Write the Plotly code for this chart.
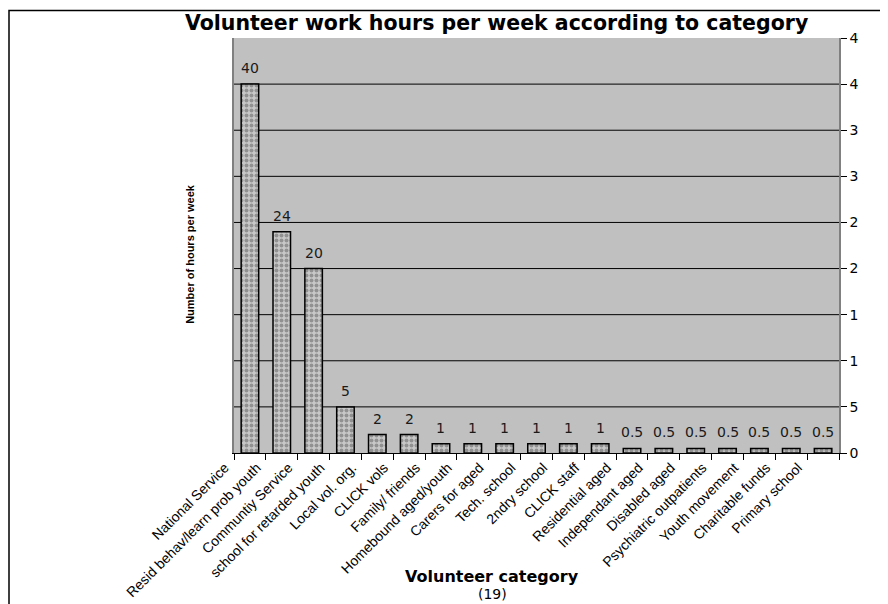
import plotly.graph_objects as go

categories = [
    "National Service", "Resid behav/learn prob youth", "Communtiy Service",
    "school for retarded youth", "Local vol. org.", "CLICK vols", "Family/ friends",
    "Homebound aged/youth", "Carers for aged", "Tech. school", "2ndry school",
    "CLICK staff", "Residential aged", "Independant aged", "Disabled aged",
    "Psychiatric outpatients", "Youth movement", "Charitable funds", "Primary school",
]
hours = [40, 24, 20, 5, 2, 2, 1, 1, 1, 1, 1, 1, 0.5, 0.5, 0.5, 0.5, 0.5, 0.5, 0.5]
bar_labels = ["40", "24", "20", "5", "2", "2", "1", "1", "1", "1", "1", "1",
              "0.5", "0.5", "0.5", "0.5", "0.5", "0.5", "0.5"]
y_tickvals = [0, 5, 10, 15, 20, 25, 30, 35, 40, 45]
y_ticktext = ["0", "5", "1", "1", "2", "2", "3", "3", "4", "4"]
gridvals = [5, 10, 15, 20, 25, 30, 35, 40]

W, H = 888, 604
L, R, T, B = 226, 831, 30, 453  # plot area in pixels

def px(x):
    return (x - L) / (R - L)

def py(y):
    return (B - y) / (B - T)

fig = go.Figure()
fig.add_trace(go.Bar(
    x=categories, y=hours,
    marker=dict(
        color="#b8b8b8",
        line=dict(color="black", width=1.5),
        pattern=dict(shape=".", fgcolor="#5a5a5a", bgcolor="#c8c8c8", size=5, solidity=0.5),
    ),
    hoverinfo="skip",
))

annotations = []
for c, v, t in zip(categories, hours, bar_labels):
    annotations.append(dict(x=c, y=v, xref="x", yref="y", text=t, showarrow=False,
                            yshift=16, yanchor="middle",
                            font=dict(family="DejaVu Sans", size=14, color="#1a1a1a")))

annotations += [
    dict(x=px(182), y=py(250), xref="paper", yref="paper", text="<b>Number of hours per week</b>",
         textangle=-90, showarrow=False, xanchor="center", yanchor="middle",
         font=dict(family="Liberation Sans", size=11, color="black")),
    dict(x=px(484), y=py(579), xref="paper", yref="paper", text="<b>Volunteer category</b>",
         showarrow=False, xanchor="center", yanchor="middle",
         font=dict(family="DejaVu Sans", size=16, color="black")),
    dict(x=px(484), y=py(597), xref="paper", yref="paper", text="(19)",
         showarrow=False, xanchor="center", yanchor="middle",
         font=dict(family="DejaVu Sans", size=14, color="black")),
    dict(x=px(488), y=py(15), xref="paper", yref="paper",
         text="<b>Volunteer work hours per week according to category</b>",
         showarrow=False, xanchor="center", yanchor="middle",
         font=dict(family="DejaVu Sans", size=20.5, color="black")),
]

shapes = []
for g in gridvals:
    shapes.append(dict(type="line", xref="paper", yref="y", x0=0, x1=1, y0=g, y1=g,
                       line=dict(color="black", width=1), layer="below"))
# outer chart frame
shapes.append(dict(type="rect", xref="paper", yref="paper",
                   x0=px(1), x1=px(895), y0=py(612), y1=py(2),
                   line=dict(color="black", width=1.5), fillcolor="rgba(0,0,0,0)"))

fig.update_layout(
    width=W, height=H,
    margin=dict(l=L, r=W - R, t=T, b=H - B, pad=0),
    paper_bgcolor="white",
    plot_bgcolor="#c0c0c0",
    showlegend=False,
    bargap=0.45,
    annotations=annotations,
    shapes=shapes,
    xaxis=dict(
        type="category",
        tickangle=-45,
        tickfont=dict(family="Liberation Sans", size=14, color="black"),
        ticks="outside", ticklen=6, tickcolor="black", tickson="boundaries",
        ticklabelshift=-25,
        showline=True, linecolor="black", linewidth=1,
        showgrid=False, zeroline=False, fixedrange=True,
    ),
    yaxis=dict(
        side="right",
        range=[0, 45],
        tickvals=y_tickvals, ticktext=y_ticktext,
        tickfont=dict(family="DejaVu Sans", size=14, color="black"),
        ticks="outside", ticklen=6, tickcolor="black",
        showline=True, linecolor="#808080", linewidth=1.5, mirror=True,
        showgrid=False, zeroline=False, fixedrange=True,
    ),
)

fig.write_html("out.html")
